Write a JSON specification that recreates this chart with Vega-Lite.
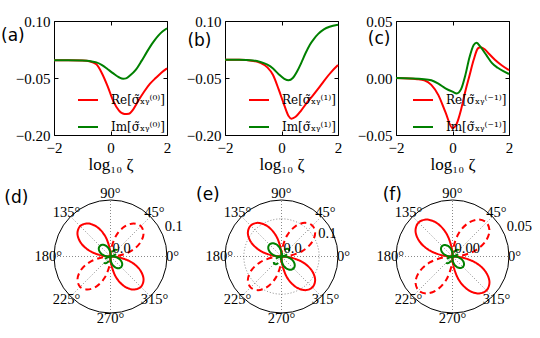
{
"$schema":"https://vega.github.io/schema/vega-lite/v6.json",
"padding":{"left":0,"top":13,"right":5,"bottom":5},
"datasets":{
"a":[
{"s":"Re","x":-2,"y":-0.003},{"s":"Re","x":-1.5,"y":-0.003},{"s":"Re","x":-1,"y":-0.004},{"s":"Re","x":-0.75,"y":-0.006},{"s":"Re","x":-0.5,"y":-0.014},{"s":"Re","x":-0.3,"y":-0.038},{"s":"Re","x":-0.1,"y":-0.072},{"s":"Re","x":0.1,"y":-0.111},{"s":"Re","x":0.3,"y":-0.136},{"s":"Re","x":0.5,"y":-0.145},{"s":"Re","x":0.65,"y":-0.144},{"s":"Re","x":0.8,"y":-0.133},{"s":"Re","x":1.0,"y":-0.108},{"s":"Re","x":1.2,"y":-0.085},{"s":"Re","x":1.4,"y":-0.065},{"s":"Re","x":1.6,"y":-0.05},{"s":"Re","x":1.8,"y":-0.036},{"s":"Re","x":2.0,"y":-0.0245},
{"s":"Im","x":-2,"y":-0.003},{"s":"Im","x":-1.5,"y":-0.003},{"s":"Im","x":-1,"y":-0.004},{"s":"Im","x":-0.7,"y":-0.006},{"s":"Im","x":-0.5,"y":-0.009},{"s":"Im","x":-0.3,"y":-0.016},{"s":"Im","x":-0.1,"y":-0.027},{"s":"Im","x":0.1,"y":-0.038},{"s":"Im","x":0.3,"y":-0.048},{"s":"Im","x":0.45,"y":-0.052},{"s":"Im","x":0.55,"y":-0.051},{"s":"Im","x":0.7,"y":-0.043},{"s":"Im","x":0.9,"y":-0.028},{"s":"Im","x":1.1,"y":-0.005},{"s":"Im","x":1.3,"y":0.02},{"s":"Im","x":1.5,"y":0.043},{"s":"Im","x":1.7,"y":0.062},{"s":"Im","x":1.85,"y":0.073},{"s":"Im","x":2.0,"y":0.081}
],
"b":[
{"s":"Re","x":-2,"y":-0.002},{"s":"Re","x":-1.5,"y":-0.002},{"s":"Re","x":-1,"y":-0.005},{"s":"Re","x":-0.75,"y":-0.01},{"s":"Re","x":-0.5,"y":-0.022},{"s":"Re","x":-0.3,"y":-0.042},{"s":"Re","x":-0.1,"y":-0.08},{"s":"Re","x":0.1,"y":-0.122},{"s":"Re","x":0.25,"y":-0.15},{"s":"Re","x":0.35,"y":-0.157},{"s":"Re","x":0.5,"y":-0.152},{"s":"Re","x":0.7,"y":-0.135},{"s":"Re","x":0.9,"y":-0.115},{"s":"Re","x":1.1,"y":-0.097},{"s":"Re","x":1.3,"y":-0.078},{"s":"Re","x":1.5,"y":-0.058},{"s":"Re","x":1.75,"y":-0.035},{"s":"Re","x":2.0,"y":-0.016},
{"s":"Im","x":-2,"y":-0.002},{"s":"Im","x":-1.5,"y":-0.002},{"s":"Im","x":-1,"y":-0.004},{"s":"Im","x":-0.75,"y":-0.008},{"s":"Im","x":-0.5,"y":-0.015},{"s":"Im","x":-0.3,"y":-0.025},{"s":"Im","x":-0.1,"y":-0.04},{"s":"Im","x":0.1,"y":-0.052},{"s":"Im","x":0.25,"y":-0.056},{"s":"Im","x":0.4,"y":-0.05},{"s":"Im","x":0.55,"y":-0.033},{"s":"Im","x":0.7,"y":-0.01},{"s":"Im","x":0.85,"y":0.015},{"s":"Im","x":1.0,"y":0.037},{"s":"Im","x":1.15,"y":0.053},{"s":"Im","x":1.3,"y":0.066},{"s":"Im","x":1.5,"y":0.078},{"s":"Im","x":1.7,"y":0.085},{"s":"Im","x":2.0,"y":0.09}
],
"c":[
{"s":"Re","x":-2,"y":0},{"s":"Re","x":-1.25,"y":-0.001},{"s":"Re","x":-1,"y":-0.002},{"s":"Re","x":-0.75,"y":-0.006},{"s":"Re","x":-0.5,"y":-0.015},{"s":"Re","x":-0.25,"y":-0.03},{"s":"Re","x":0,"y":-0.044},{"s":"Re","x":0.15,"y":-0.04},{"s":"Re","x":0.3,"y":-0.028},{"s":"Re","x":0.45,"y":-0.012},{"s":"Re","x":0.6,"y":0.002},{"s":"Re","x":0.75,"y":0.016},{"s":"Re","x":0.9,"y":0.026},{"s":"Re","x":1.0,"y":0.027},{"s":"Re","x":1.15,"y":0.025},{"s":"Re","x":1.3,"y":0.021},{"s":"Re","x":1.5,"y":0.016},{"s":"Re","x":1.75,"y":0.011},{"s":"Re","x":2.0,"y":0.007},
{"s":"Im","x":-2,"y":0},{"s":"Im","x":-1,"y":-0.001},{"s":"Im","x":-0.75,"y":-0.002},{"s":"Im","x":-0.5,"y":-0.005},{"s":"Im","x":-0.25,"y":-0.009},{"s":"Im","x":0,"y":-0.012},{"s":"Im","x":0.15,"y":-0.0135},{"s":"Im","x":0.3,"y":-0.01},{"s":"Im","x":0.45,"y":0.002},{"s":"Im","x":0.6,"y":0.018},{"s":"Im","x":0.75,"y":0.029},{"s":"Im","x":0.85,"y":0.031},{"s":"Im","x":1.0,"y":0.027},{"s":"Im","x":1.2,"y":0.02},{"s":"Im","x":1.4,"y":0.013},{"s":"Im","x":1.6,"y":0.009},{"s":"Im","x":1.8,"y":0.006},{"s":"Im","x":2.0,"y":0.0035}
],
"d":[
{"s":"Re","k":"p","l":1,"i":0,"x":0,"y":0},{"s":"Re","k":"p","l":1,"i":1,"x":-0.00115,"y":0.01315},{"s":"Re","k":"p","l":1,"i":2,"x":-0.00983,"y":0.03671},{"s":"Re","k":"p","l":1,"i":3,"x":-0.0246,"y":0.05276},{"s":"Re","k":"p","l":1,"i":4,"x":-0.04096,"y":0.0585},{"s":"Re","k":"p","l":1,"i":5,"x":-0.05374,"y":0.05374},{"s":"Re","k":"p","l":1,"i":6,"x":-0.0585,"y":0.04096},{"s":"Re","k":"p","l":1,"i":7,"x":-0.05276,"y":0.0246},{"s":"Re","k":"p","l":1,"i":8,"x":-0.03671,"y":0.00983},{"s":"Re","k":"p","l":1,"i":9,"x":-0.01315,"y":0.00115},{"s":"Re","k":"p","l":1,"i":10,"x":0,"y":0},
{"s":"Re","k":"p","l":2,"i":0,"x":0,"y":0},{"s":"Re","k":"p","l":2,"i":1,"x":0.00115,"y":-0.01315},{"s":"Re","k":"p","l":2,"i":2,"x":0.00983,"y":-0.03671},{"s":"Re","k":"p","l":2,"i":3,"x":0.0246,"y":-0.05276},{"s":"Re","k":"p","l":2,"i":4,"x":0.04096,"y":-0.0585},{"s":"Re","k":"p","l":2,"i":5,"x":0.05374,"y":-0.05374},{"s":"Re","k":"p","l":2,"i":6,"x":0.0585,"y":-0.04096},{"s":"Re","k":"p","l":2,"i":7,"x":0.05276,"y":-0.0246},{"s":"Re","k":"p","l":2,"i":8,"x":0.03671,"y":-0.00983},{"s":"Re","k":"p","l":2,"i":9,"x":0.01315,"y":-0.00115},{"s":"Re","k":"p","l":2,"i":10,"x":0,"y":0},
{"s":"Re","k":"n","l":3,"i":0,"x":0,"y":0},{"s":"Re","k":"n","l":3,"i":1,"x":0.00115,"y":0.01315},{"s":"Re","k":"n","l":3,"i":2,"x":0.00983,"y":0.03671},{"s":"Re","k":"n","l":3,"i":3,"x":0.0246,"y":0.05276},{"s":"Re","k":"n","l":3,"i":4,"x":0.04096,"y":0.0585},{"s":"Re","k":"n","l":3,"i":5,"x":0.05374,"y":0.05374},{"s":"Re","k":"n","l":3,"i":6,"x":0.0585,"y":0.04096},{"s":"Re","k":"n","l":3,"i":7,"x":0.05276,"y":0.0246},{"s":"Re","k":"n","l":3,"i":8,"x":0.03671,"y":0.00983},{"s":"Re","k":"n","l":3,"i":9,"x":0.01315,"y":0.00115},{"s":"Re","k":"n","l":3,"i":10,"x":0,"y":0},
{"s":"Re","k":"n","l":4,"i":0,"x":0,"y":0},{"s":"Re","k":"n","l":4,"i":1,"x":-0.00115,"y":-0.01315},{"s":"Re","k":"n","l":4,"i":2,"x":-0.00983,"y":-0.03671},{"s":"Re","k":"n","l":4,"i":3,"x":-0.0246,"y":-0.05276},{"s":"Re","k":"n","l":4,"i":4,"x":-0.04096,"y":-0.0585},{"s":"Re","k":"n","l":4,"i":5,"x":-0.05374,"y":-0.05374},{"s":"Re","k":"n","l":4,"i":6,"x":-0.0585,"y":-0.04096},{"s":"Re","k":"n","l":4,"i":7,"x":-0.05276,"y":-0.0246},{"s":"Re","k":"n","l":4,"i":8,"x":-0.03671,"y":-0.00983},{"s":"Re","k":"n","l":4,"i":9,"x":-0.01315,"y":-0.00115},{"s":"Re","k":"n","l":4,"i":10,"x":0,"y":0},
{"s":"Im","k":"p","l":5,"i":0,"x":0,"y":0},{"s":"Im","k":"p","l":5,"i":1,"x":0.00016,"y":0.0031},{"s":"Im","k":"p","l":5,"i":2,"x":-0.00078,"y":0.00896},{"s":"Im","k":"p","l":5,"i":3,"x":-0.00412,"y":0.01538},{"s":"Im","k":"p","l":5,"i":4,"x":-0.00912,"y":0.01956},{"s":"Im","k":"p","l":5,"i":5,"x":-0.0145,"y":0.02071},{"s":"Im","k":"p","l":5,"i":6,"x":-0.01878,"y":0.01878},{"s":"Im","k":"p","l":5,"i":7,"x":-0.02071,"y":0.0145},{"s":"Im","k":"p","l":5,"i":8,"x":-0.01956,"y":0.00912},{"s":"Im","k":"p","l":5,"i":9,"x":-0.01538,"y":0.00412},{"s":"Im","k":"p","l":5,"i":10,"x":-0.00896,"y":0.00078},{"s":"Im","k":"p","l":5,"i":11,"x":-0.0031,"y":-0.00016},{"s":"Im","k":"p","l":5,"i":12,"x":0,"y":0},
{"s":"Im","k":"p","l":6,"i":0,"x":0,"y":0},{"s":"Im","k":"p","l":6,"i":1,"x":-0.00016,"y":-0.0031},{"s":"Im","k":"p","l":6,"i":2,"x":0.00078,"y":-0.00896},{"s":"Im","k":"p","l":6,"i":3,"x":0.00412,"y":-0.01538},{"s":"Im","k":"p","l":6,"i":4,"x":0.00912,"y":-0.01956},{"s":"Im","k":"p","l":6,"i":5,"x":0.0145,"y":-0.02071},{"s":"Im","k":"p","l":6,"i":6,"x":0.01878,"y":-0.01878},{"s":"Im","k":"p","l":6,"i":7,"x":0.02071,"y":-0.0145},{"s":"Im","k":"p","l":6,"i":8,"x":0.01956,"y":-0.00912},{"s":"Im","k":"p","l":6,"i":9,"x":0.01538,"y":-0.00412},{"s":"Im","k":"p","l":6,"i":10,"x":0.00896,"y":-0.00078},{"s":"Im","k":"p","l":6,"i":11,"x":0.0031,"y":0.00016},{"s":"Im","k":"p","l":6,"i":12,"x":0,"y":0},
{"s":"Im","k":"n","l":7,"i":0,"x":0,"y":0},{"s":"Im","k":"n","l":7,"i":1,"x":0.00191,"y":0.00034},{"s":"Im","k":"n","l":7,"i":2,"x":0.00513,"y":0.00138},{"s":"Im","k":"n","l":7,"i":3,"x":0.00993,"y":0.00464},{"s":"Im","k":"n","l":7,"i":4,"x":0.012,"y":0.00841},{"s":"Im","k":"n","l":7,"i":5,"x":0.01126,"y":0.01126},{"s":"Im","k":"n","l":7,"i":6,"x":0.00841,"y":0.012},{"s":"Im","k":"n","l":7,"i":7,"x":0.00464,"y":0.00993},{"s":"Im","k":"n","l":7,"i":8,"x":0.00138,"y":0.00513},{"s":"Im","k":"n","l":7,"i":9,"x":0.00034,"y":0.00191},{"s":"Im","k":"n","l":7,"i":10,"x":0,"y":0},
{"s":"Im","k":"n","l":8,"i":0,"x":0,"y":0},{"s":"Im","k":"n","l":8,"i":1,"x":-0.00191,"y":-0.00034},{"s":"Im","k":"n","l":8,"i":2,"x":-0.00513,"y":-0.00138},{"s":"Im","k":"n","l":8,"i":3,"x":-0.00993,"y":-0.00464},{"s":"Im","k":"n","l":8,"i":4,"x":-0.012,"y":-0.00841},{"s":"Im","k":"n","l":8,"i":5,"x":-0.01126,"y":-0.01126},{"s":"Im","k":"n","l":8,"i":6,"x":-0.00841,"y":-0.012},{"s":"Im","k":"n","l":8,"i":7,"x":-0.00464,"y":-0.00993},{"s":"Im","k":"n","l":8,"i":8,"x":-0.00138,"y":-0.00513},{"s":"Im","k":"n","l":8,"i":9,"x":-0.00034,"y":-0.00191},{"s":"Im","k":"n","l":8,"i":10,"x":0,"y":0}
],
"e":[
{"s":"Re","k":"p","l":1,"i":0,"x":0,"y":0},{"s":"Re","k":"p","l":1,"i":1,"x":-0.00175,"y":0.02007},{"s":"Re","k":"p","l":1,"i":2,"x":-0.01501,"y":0.05603},{"s":"Re","k":"p","l":1,"i":3,"x":-0.03755,"y":0.08053},{"s":"Re","k":"p","l":1,"i":4,"x":-0.06252,"y":0.08929},{"s":"Re","k":"p","l":1,"i":5,"x":-0.08202,"y":0.08202},{"s":"Re","k":"p","l":1,"i":6,"x":-0.08929,"y":0.06252},{"s":"Re","k":"p","l":1,"i":7,"x":-0.08053,"y":0.03755},{"s":"Re","k":"p","l":1,"i":8,"x":-0.05603,"y":0.01501},{"s":"Re","k":"p","l":1,"i":9,"x":-0.02007,"y":0.00175},{"s":"Re","k":"p","l":1,"i":10,"x":0,"y":0},
{"s":"Re","k":"p","l":2,"i":0,"x":0,"y":0},{"s":"Re","k":"p","l":2,"i":1,"x":0.00175,"y":-0.02007},{"s":"Re","k":"p","l":2,"i":2,"x":0.01501,"y":-0.05603},{"s":"Re","k":"p","l":2,"i":3,"x":0.03755,"y":-0.08053},{"s":"Re","k":"p","l":2,"i":4,"x":0.06252,"y":-0.08929},{"s":"Re","k":"p","l":2,"i":5,"x":0.08202,"y":-0.08202},{"s":"Re","k":"p","l":2,"i":6,"x":0.08929,"y":-0.06252},{"s":"Re","k":"p","l":2,"i":7,"x":0.08053,"y":-0.03755},{"s":"Re","k":"p","l":2,"i":8,"x":0.05603,"y":-0.01501},{"s":"Re","k":"p","l":2,"i":9,"x":0.02007,"y":-0.00175},{"s":"Re","k":"p","l":2,"i":10,"x":0,"y":0},
{"s":"Re","k":"n","l":3,"i":0,"x":0,"y":0},{"s":"Re","k":"n","l":3,"i":1,"x":0.00175,"y":0.02007},{"s":"Re","k":"n","l":3,"i":2,"x":0.01501,"y":0.05603},{"s":"Re","k":"n","l":3,"i":3,"x":0.03755,"y":0.08053},{"s":"Re","k":"n","l":3,"i":4,"x":0.06252,"y":0.08929},{"s":"Re","k":"n","l":3,"i":5,"x":0.08202,"y":0.08202},{"s":"Re","k":"n","l":3,"i":6,"x":0.08929,"y":0.06252},{"s":"Re","k":"n","l":3,"i":7,"x":0.08053,"y":0.03755},{"s":"Re","k":"n","l":3,"i":8,"x":0.05603,"y":0.01501},{"s":"Re","k":"n","l":3,"i":9,"x":0.02007,"y":0.00175},{"s":"Re","k":"n","l":3,"i":10,"x":0,"y":0},
{"s":"Re","k":"n","l":4,"i":0,"x":0,"y":0},{"s":"Re","k":"n","l":4,"i":1,"x":-0.00175,"y":-0.02007},{"s":"Re","k":"n","l":4,"i":2,"x":-0.01501,"y":-0.05603},{"s":"Re","k":"n","l":4,"i":3,"x":-0.03755,"y":-0.08053},{"s":"Re","k":"n","l":4,"i":4,"x":-0.06252,"y":-0.08929},{"s":"Re","k":"n","l":4,"i":5,"x":-0.08202,"y":-0.08202},{"s":"Re","k":"n","l":4,"i":6,"x":-0.08929,"y":-0.06252},{"s":"Re","k":"n","l":4,"i":7,"x":-0.08053,"y":-0.03755},{"s":"Re","k":"n","l":4,"i":8,"x":-0.05603,"y":-0.01501},{"s":"Re","k":"n","l":4,"i":9,"x":-0.02007,"y":-0.00175},{"s":"Re","k":"n","l":4,"i":10,"x":0,"y":0},
{"s":"Im","k":"p","l":5,"i":0,"x":0,"y":0},{"s":"Im","k":"p","l":5,"i":1,"x":0.00027,"y":0.00525},{"s":"Im","k":"p","l":5,"i":2,"x":-0.00132,"y":0.01518},{"s":"Im","k":"p","l":5,"i":3,"x":-0.00699,"y":0.02607},{"s":"Im","k":"p","l":5,"i":4,"x":-0.01545,"y":0.03315},{"s":"Im","k":"p","l":5,"i":5,"x":-0.02457,"y":0.0351},{"s":"Im","k":"p","l":5,"i":6,"x":-0.03183,"y":0.03183},{"s":"Im","k":"p","l":5,"i":7,"x":-0.0351,"y":0.02457},{"s":"Im","k":"p","l":5,"i":8,"x":-0.03315,"y":0.01545},{"s":"Im","k":"p","l":5,"i":9,"x":-0.02607,"y":0.00699},{"s":"Im","k":"p","l":5,"i":10,"x":-0.01518,"y":0.00132},{"s":"Im","k":"p","l":5,"i":11,"x":-0.00525,"y":-0.00027},{"s":"Im","k":"p","l":5,"i":12,"x":0,"y":0},
{"s":"Im","k":"p","l":6,"i":0,"x":0,"y":0},{"s":"Im","k":"p","l":6,"i":1,"x":-0.00027,"y":-0.00525},{"s":"Im","k":"p","l":6,"i":2,"x":0.00132,"y":-0.01518},{"s":"Im","k":"p","l":6,"i":3,"x":0.00699,"y":-0.02607},{"s":"Im","k":"p","l":6,"i":4,"x":0.01545,"y":-0.03315},{"s":"Im","k":"p","l":6,"i":5,"x":0.02457,"y":-0.0351},{"s":"Im","k":"p","l":6,"i":6,"x":0.03183,"y":-0.03183},{"s":"Im","k":"p","l":6,"i":7,"x":0.0351,"y":-0.02457},{"s":"Im","k":"p","l":6,"i":8,"x":0.03315,"y":-0.01545},{"s":"Im","k":"p","l":6,"i":9,"x":0.02607,"y":-0.00699},{"s":"Im","k":"p","l":6,"i":10,"x":0.01518,"y":-0.00132},{"s":"Im","k":"p","l":6,"i":11,"x":0.00525,"y":0.00027},{"s":"Im","k":"p","l":6,"i":12,"x":0,"y":0},
{"s":"Im","k":"n","l":7,"i":0,"x":0,"y":0},{"s":"Im","k":"n","l":7,"i":1,"x":0.00324,"y":0.00057},{"s":"Im","k":"n","l":7,"i":2,"x":0.0087,"y":0.00234},{"s":"Im","k":"n","l":7,"i":3,"x":0.01683,"y":0.00786},{"s":"Im","k":"n","l":7,"i":4,"x":0.02034,"y":0.01425},{"s":"Im","k":"n","l":7,"i":5,"x":0.01908,"y":0.01908},{"s":"Im","k":"n","l":7,"i":6,"x":0.01425,"y":0.02034},{"s":"Im","k":"n","l":7,"i":7,"x":0.00786,"y":0.01683},{"s":"Im","k":"n","l":7,"i":8,"x":0.00234,"y":0.0087},{"s":"Im","k":"n","l":7,"i":9,"x":0.00057,"y":0.00324},{"s":"Im","k":"n","l":7,"i":10,"x":0,"y":0},
{"s":"Im","k":"n","l":8,"i":0,"x":0,"y":0},{"s":"Im","k":"n","l":8,"i":1,"x":-0.00324,"y":-0.00057},{"s":"Im","k":"n","l":8,"i":2,"x":-0.0087,"y":-0.00234},{"s":"Im","k":"n","l":8,"i":3,"x":-0.01683,"y":-0.00786},{"s":"Im","k":"n","l":8,"i":4,"x":-0.02034,"y":-0.01425},{"s":"Im","k":"n","l":8,"i":5,"x":-0.01908,"y":-0.01908},{"s":"Im","k":"n","l":8,"i":6,"x":-0.01425,"y":-0.02034},{"s":"Im","k":"n","l":8,"i":7,"x":-0.00786,"y":-0.01683},{"s":"Im","k":"n","l":8,"i":8,"x":-0.00234,"y":-0.0087},{"s":"Im","k":"n","l":8,"i":9,"x":-0.00057,"y":-0.00324},{"s":"Im","k":"n","l":8,"i":10,"x":0,"y":0}
],
"f":[
{"s":"Re","k":"p","l":1,"i":0,"x":0,"y":0},{"s":"Re","k":"p","l":1,"i":1,"x":-0.00064,"y":0.00735},{"s":"Re","k":"p","l":1,"i":2,"x":-0.0055,"y":0.02053},{"s":"Re","k":"p","l":1,"i":3,"x":-0.01376,"y":0.0295},{"s":"Re","k":"p","l":1,"i":4,"x":-0.02291,"y":0.03271},{"s":"Re","k":"p","l":1,"i":5,"x":-0.03005,"y":0.03005},{"s":"Re","k":"p","l":1,"i":6,"x":-0.03271,"y":0.02291},{"s":"Re","k":"p","l":1,"i":7,"x":-0.0295,"y":0.01376},{"s":"Re","k":"p","l":1,"i":8,"x":-0.02053,"y":0.0055},{"s":"Re","k":"p","l":1,"i":9,"x":-0.00735,"y":0.00064},{"s":"Re","k":"p","l":1,"i":10,"x":0,"y":0},
{"s":"Re","k":"p","l":2,"i":0,"x":0,"y":0},{"s":"Re","k":"p","l":2,"i":1,"x":0.00064,"y":-0.00735},{"s":"Re","k":"p","l":2,"i":2,"x":0.0055,"y":-0.02053},{"s":"Re","k":"p","l":2,"i":3,"x":0.01376,"y":-0.0295},{"s":"Re","k":"p","l":2,"i":4,"x":0.02291,"y":-0.03271},{"s":"Re","k":"p","l":2,"i":5,"x":0.03005,"y":-0.03005},{"s":"Re","k":"p","l":2,"i":6,"x":0.03271,"y":-0.02291},{"s":"Re","k":"p","l":2,"i":7,"x":0.0295,"y":-0.01376},{"s":"Re","k":"p","l":2,"i":8,"x":0.02053,"y":-0.0055},{"s":"Re","k":"p","l":2,"i":9,"x":0.00735,"y":-0.00064},{"s":"Re","k":"p","l":2,"i":10,"x":0,"y":0},
{"s":"Re","k":"n","l":3,"i":0,"x":0,"y":0},{"s":"Re","k":"n","l":3,"i":1,"x":0.00064,"y":0.00735},{"s":"Re","k":"n","l":3,"i":2,"x":0.0055,"y":0.02053},{"s":"Re","k":"n","l":3,"i":3,"x":0.01376,"y":0.0295},{"s":"Re","k":"n","l":3,"i":4,"x":0.02291,"y":0.03271},{"s":"Re","k":"n","l":3,"i":5,"x":0.03005,"y":0.03005},{"s":"Re","k":"n","l":3,"i":6,"x":0.03271,"y":0.02291},{"s":"Re","k":"n","l":3,"i":7,"x":0.0295,"y":0.01376},{"s":"Re","k":"n","l":3,"i":8,"x":0.02053,"y":0.0055},{"s":"Re","k":"n","l":3,"i":9,"x":0.00735,"y":0.00064},{"s":"Re","k":"n","l":3,"i":10,"x":0,"y":0},
{"s":"Re","k":"n","l":4,"i":0,"x":0,"y":0},{"s":"Re","k":"n","l":4,"i":1,"x":-0.00064,"y":-0.00735},{"s":"Re","k":"n","l":4,"i":2,"x":-0.0055,"y":-0.02053},{"s":"Re","k":"n","l":4,"i":3,"x":-0.01376,"y":-0.0295},{"s":"Re","k":"n","l":4,"i":4,"x":-0.02291,"y":-0.03271},{"s":"Re","k":"n","l":4,"i":5,"x":-0.03005,"y":-0.03005},{"s":"Re","k":"n","l":4,"i":6,"x":-0.03271,"y":-0.02291},{"s":"Re","k":"n","l":4,"i":7,"x":-0.0295,"y":-0.01376},{"s":"Re","k":"n","l":4,"i":8,"x":-0.02053,"y":-0.0055},{"s":"Re","k":"n","l":4,"i":9,"x":-0.00735,"y":-0.00064},{"s":"Re","k":"n","l":4,"i":10,"x":0,"y":0},
{"s":"Im","k":"p","l":5,"i":0,"x":0,"y":0},{"s":"Im","k":"p","l":5,"i":1,"x":0.00008,"y":0.00152},{"s":"Im","k":"p","l":5,"i":2,"x":-0.00038,"y":0.0044},{"s":"Im","k":"p","l":5,"i":3,"x":-0.00203,"y":0.00756},{"s":"Im","k":"p","l":5,"i":4,"x":-0.00448,"y":0.00961},{"s":"Im","k":"p","l":5,"i":5,"x":-0.00713,"y":0.01018},{"s":"Im","k":"p","l":5,"i":6,"x":-0.00923,"y":0.00923},{"s":"Im","k":"p","l":5,"i":7,"x":-0.01018,"y":0.00713},{"s":"Im","k":"p","l":5,"i":8,"x":-0.00961,"y":0.00448},{"s":"Im","k":"p","l":5,"i":9,"x":-0.00756,"y":0.00203},{"s":"Im","k":"p","l":5,"i":10,"x":-0.0044,"y":0.00038},{"s":"Im","k":"p","l":5,"i":11,"x":-0.00152,"y":-0.00008},{"s":"Im","k":"p","l":5,"i":12,"x":0,"y":0},
{"s":"Im","k":"p","l":6,"i":0,"x":0,"y":0},{"s":"Im","k":"p","l":6,"i":1,"x":-0.00008,"y":-0.00152},{"s":"Im","k":"p","l":6,"i":2,"x":0.00038,"y":-0.0044},{"s":"Im","k":"p","l":6,"i":3,"x":0.00203,"y":-0.00756},{"s":"Im","k":"p","l":6,"i":4,"x":0.00448,"y":-0.00961},{"s":"Im","k":"p","l":6,"i":5,"x":0.00713,"y":-0.01018},{"s":"Im","k":"p","l":6,"i":6,"x":0.00923,"y":-0.00923},{"s":"Im","k":"p","l":6,"i":7,"x":0.01018,"y":-0.00713},{"s":"Im","k":"p","l":6,"i":8,"x":0.00961,"y":-0.00448},{"s":"Im","k":"p","l":6,"i":9,"x":0.00756,"y":-0.00203},{"s":"Im","k":"p","l":6,"i":10,"x":0.0044,"y":-0.00038},{"s":"Im","k":"p","l":6,"i":11,"x":0.00152,"y":0.00008},{"s":"Im","k":"p","l":6,"i":12,"x":0,"y":0},
{"s":"Im","k":"n","l":7,"i":0,"x":0,"y":0},{"s":"Im","k":"n","l":7,"i":1,"x":0.00094,"y":0.00017},{"s":"Im","k":"n","l":7,"i":2,"x":0.00252,"y":0.00068},{"s":"Im","k":"n","l":7,"i":3,"x":0.00488,"y":0.00228},{"s":"Im","k":"n","l":7,"i":4,"x":0.0059,"y":0.00413},{"s":"Im","k":"n","l":7,"i":5,"x":0.00553,"y":0.00553},{"s":"Im","k":"n","l":7,"i":6,"x":0.00413,"y":0.0059},{"s":"Im","k":"n","l":7,"i":7,"x":0.00228,"y":0.00488},{"s":"Im","k":"n","l":7,"i":8,"x":0.00068,"y":0.00252},{"s":"Im","k":"n","l":7,"i":9,"x":0.00017,"y":0.00094},{"s":"Im","k":"n","l":7,"i":10,"x":0,"y":0},
{"s":"Im","k":"n","l":8,"i":0,"x":0,"y":0},{"s":"Im","k":"n","l":8,"i":1,"x":-0.00094,"y":-0.00017},{"s":"Im","k":"n","l":8,"i":2,"x":-0.00252,"y":-0.00068},{"s":"Im","k":"n","l":8,"i":3,"x":-0.00488,"y":-0.00228},{"s":"Im","k":"n","l":8,"i":4,"x":-0.0059,"y":-0.00413},{"s":"Im","k":"n","l":8,"i":5,"x":-0.00553,"y":-0.00553},{"s":"Im","k":"n","l":8,"i":6,"x":-0.00413,"y":-0.0059},{"s":"Im","k":"n","l":8,"i":7,"x":-0.00228,"y":-0.00488},{"s":"Im","k":"n","l":8,"i":8,"x":-0.00068,"y":-0.00252},{"s":"Im","k":"n","l":8,"i":9,"x":-0.00017,"y":-0.00094},{"s":"Im","k":"n","l":8,"i":10,"x":0,"y":0}
]
},
"columns":3,
"spacing":{"row":65,"column":58},
"bounds":"flush",
"concat":[
{"width":113,"height":114,
 "layer":[
  {"data":{"name":"a"},"mark":{"type":"line","strokeWidth":2,"interpolate":"monotone"},
   "encoding":{
    "x":{"field":"x","type":"quantitative","scale":{"domain":[-2,2],"nice":false},"axis":{"values":[-2,0,2],"format":"d","labelPadding":9,"title":"log₁₀ ζ","titlePadding":1}},
    "y":{"field":"y","type":"quantitative","scale":{"domain":[-0.2,0.1],"nice":false},"axis":{"values":[-0.2,-0.05,0.1],"format":".2f","labelPadding":8,"title":null}},
    "color":{"field":"s","type":"nominal","scale":{"domain":["Re","Im"],"range":["#ff0000","#008000"]},"legend":{"title":null,"labelExpr":"datum.label == 'Re' ? 'Re[σ̃ₓᵧ⁽⁰⁾]' : 'Im[σ̃ₓᵧ⁽⁰⁾]'"}}}},
  {"data":{"name":"a"},"mark":{"type":"point","opacity":0},
   "encoding":{
    "x":{"field":"x","type":"quantitative","scale":{"domain":[-2,2],"nice":false},"axis":{"orient":"top","values":[-2,0,2],"labels":false,"title":null}},
    "y":{"field":"y","type":"quantitative","scale":{"domain":[-0.2,0.1],"nice":false},"axis":{"orient":"right","values":[-0.2,-0.05,0.1],"labels":false,"title":null}}}},
  {"data":{"values":[{"t":"(a)"}]},"mark":{"type":"text","font":"DejaVu Sans","fontSize":17,"align":"left","baseline":"middle"},
   "encoding":{"x":{"datum":-3.876,"type":"quantitative","axis":null},"y":{"datum":0.0605,"type":"quantitative","axis":null},"text":{"field":"t"}}}
 ],
 "resolve":{"axis":{"x":"independent","y":"independent"}}
},
{"width":113,"height":114,
 "layer":[
  {"data":{"name":"b"},"mark":{"type":"line","strokeWidth":2,"interpolate":"monotone"},
   "encoding":{
    "x":{"field":"x","type":"quantitative","scale":{"domain":[-2,2],"nice":false},"axis":{"values":[-2,0,2],"format":"d","labelPadding":9,"title":"log₁₀ ζ","titlePadding":1}},
    "y":{"field":"y","type":"quantitative","scale":{"domain":[-0.2,0.1],"nice":false},"axis":{"values":[-0.2,-0.05,0.1],"format":".2f","labelPadding":8,"title":null}},
    "color":{"field":"s","type":"nominal","scale":{"domain":["Re","Im"],"range":["#ff0000","#008000"]},"legend":{"title":null,"labelExpr":"datum.label == 'Re' ? 'Re[σ̃ₓᵧ⁽¹⁾]' : 'Im[σ̃ₓᵧ⁽¹⁾]'"}}}},
  {"data":{"name":"b"},"mark":{"type":"point","opacity":0},
   "encoding":{
    "x":{"field":"x","type":"quantitative","scale":{"domain":[-2,2],"nice":false},"axis":{"orient":"top","values":[-2,0,2],"labels":false,"title":null}},
    "y":{"field":"y","type":"quantitative","scale":{"domain":[-0.2,0.1],"nice":false},"axis":{"orient":"right","values":[-0.2,-0.05,0.1],"labels":false,"title":null}}}},
  {"data":{"values":[{"t":"(b)"}]},"mark":{"type":"text","font":"DejaVu Sans","fontSize":17,"align":"left","baseline":"middle"},
   "encoding":{"x":{"datum":-3.33,"type":"quantitative","axis":null},"y":{"datum":0.0482,"type":"quantitative","axis":null},"text":{"field":"t"}}}
 ],
 "resolve":{"axis":{"x":"independent","y":"independent"}}
},
{"width":113,"height":114,
 "layer":[
  {"data":{"name":"c"},"mark":{"type":"line","strokeWidth":2,"interpolate":"monotone"},
   "encoding":{
    "x":{"field":"x","type":"quantitative","scale":{"domain":[-2,2],"nice":false},"axis":{"values":[-2,0,2],"format":"d","labelPadding":9,"title":"log₁₀ ζ","titlePadding":1}},
    "y":{"field":"y","type":"quantitative","scale":{"domain":[-0.05,0.05],"nice":false},"axis":{"values":[-0.05,0,0.05],"format":".2f","labelPadding":8,"title":null}},
    "color":{"field":"s","type":"nominal","scale":{"domain":["Re","Im"],"range":["#ff0000","#008000"]},"legend":{"title":null,"labelExpr":"datum.label == 'Re' ? 'Re[σ̃ₓᵧ⁽⁻¹⁾]' : 'Im[σ̃ₓᵧ⁽⁻¹⁾]'"}}}},
  {"data":{"name":"c"},"mark":{"type":"point","opacity":0},
   "encoding":{
    "x":{"field":"x","type":"quantitative","scale":{"domain":[-2,2],"nice":false},"axis":{"orient":"top","values":[-2,0,2],"labels":false,"title":null}},
    "y":{"field":"y","type":"quantitative","scale":{"domain":[-0.05,0.05],"nice":false},"axis":{"orient":"right","values":[-0.05,0,0.05],"labels":false,"title":null}}}},
  {"data":{"values":[{"t":"(c)"}]},"mark":{"type":"text","font":"DejaVu Sans","fontSize":17,"align":"left","baseline":"middle"},
   "encoding":{"x":{"datum":-3.0,"type":"quantitative","axis":null},"y":{"datum":0.0342,"type":"quantitative","axis":null},"text":{"field":"t"}}}
 ],
 "resolve":{"axis":{"x":"independent","y":"independent"}}
},
{"width":113,"height":113,"view":{"stroke":null},
 "layer":[
  {"data":{"values":[{"x1":-0.1,"y1":0,"x2":0.1,"y2":0},{"x1":0,"y1":-0.1,"x2":0,"y2":0.1},{"x1":-0.0707,"y1":-0.0707,"x2":0.0707,"y2":0.0707},{"x1":-0.0707,"y1":0.0707,"x2":0.0707,"y2":-0.0707}]},
   "mark":{"type":"rule","color":"#555555","strokeWidth":0.7,"strokeDash":[1,2]},
   "encoding":{"x":{"field":"x1","type":"quantitative","scale":{"domain":[-0.1,0.1],"nice":false},"axis":null},"y":{"field":"y1","type":"quantitative","scale":{"domain":[-0.1,0.1],"nice":false},"axis":null},"x2":{"field":"x2"},"y2":{"field":"y2"}}},
  {"data":{"values":[{"r":0.1}]},"mark":{"type":"arc","filled":false,"stroke":"black","strokeWidth":1,"theta":0,"theta2":6.2832},
   "encoding":{"radius":{"field":"r","type":"quantitative","scale":{"type":"linear","domain":[0,0.1],"range":[0,56.5]}}}},
  {"data":{"name":"d"},"mark":{"type":"line","strokeWidth":2,"interpolate":"catmull-rom"},
   "encoding":{"x":{"field":"x","type":"quantitative","scale":{"domain":[-0.1,0.1],"nice":false},"axis":null},"y":{"field":"y","type":"quantitative","scale":{"domain":[-0.1,0.1],"nice":false},"axis":null},
    "color":{"field":"s","type":"nominal","scale":{"domain":["Re","Im"],"range":["#ff0000","#008000"]},"legend":null},
    "strokeDash":{"field":"k","type":"nominal","scale":{"domain":["p","n"],"range":[[1,0],[6,4]]},"legend":null},
    "detail":{"field":"l","type":"nominal"},"order":{"field":"i","type":"quantitative"}}},
  {"data":{"values":[{"t":"0°","x":0.11,"y":0},{"t":"45°","x":0.0778,"y":0.0778},{"t":"90°","x":0,"y":0.11},{"t":"135°","x":-0.0778,"y":0.0778},{"t":"180°","x":-0.11,"y":0},{"t":"225°","x":-0.0778,"y":-0.0778},{"t":"270°","x":0,"y":-0.11},{"t":"315°","x":0.0778,"y":-0.0778}]},
   "mark":{"type":"text","fontSize":14.5,"align":"center","baseline":"middle"},
   "encoding":{"x":{"field":"x","type":"quantitative","scale":{"domain":[-0.1,0.1],"nice":false},"axis":null},"y":{"field":"y","type":"quantitative","scale":{"domain":[-0.1,0.1],"nice":false},"axis":null},"text":{"field":"t"}}},
  {"data":{"values":[{"t":"0.0","x":0,"y":0},{"t":"0.1","x":0.0924,"y":0.0383}]},
   "mark":{"type":"text","fontSize":14.5,"align":"left","baseline":"bottom","dx":2,"dy":-1},
   "encoding":{"x":{"field":"x","type":"quantitative","scale":{"domain":[-0.1,0.1],"nice":false},"axis":null},"y":{"field":"y","type":"quantitative","scale":{"domain":[-0.1,0.1],"nice":false},"axis":null},"text":{"field":"t"}}},
  {"data":{"values":[{"t":"(d)","x":-0.188,"y":0.1044}]},
   "mark":{"type":"text","font":"DejaVu Sans","fontSize":17,"align":"left","baseline":"middle"},
   "encoding":{"x":{"field":"x","type":"quantitative","scale":{"domain":[-0.1,0.1],"nice":false},"axis":null},"y":{"field":"y","type":"quantitative","scale":{"domain":[-0.1,0.1],"nice":false},"axis":null},"text":{"field":"t"}}}
 ]
},
{"width":113,"height":113,"view":{"stroke":null},
 "layer":[
  {"data":{"values":[{"x1":-0.15,"y1":0,"x2":0.15,"y2":0},{"x1":0,"y1":-0.15,"x2":0,"y2":0.15},{"x1":-0.1061,"y1":-0.1061,"x2":0.1061,"y2":0.1061},{"x1":-0.1061,"y1":0.1061,"x2":0.1061,"y2":-0.1061}]},
   "mark":{"type":"rule","color":"#555555","strokeWidth":0.7,"strokeDash":[1,2]},
   "encoding":{"x":{"field":"x1","type":"quantitative","scale":{"domain":[-0.15,0.15],"nice":false},"axis":null},"y":{"field":"y1","type":"quantitative","scale":{"domain":[-0.15,0.15],"nice":false},"axis":null},"x2":{"field":"x2"},"y2":{"field":"y2"}}},
  {"data":{"values":[{"r":0.1}]},"mark":{"type":"arc","filled":false,"stroke":"#555555","strokeWidth":0.7,"strokeDash":[1,2],"theta":0,"theta2":6.2832},
   "encoding":{"radius":{"field":"r","type":"quantitative","scale":{"type":"linear","domain":[0,0.15],"range":[0,56.5]}}}},
  {"data":{"values":[{"r":0.15}]},"mark":{"type":"arc","filled":false,"stroke":"black","strokeWidth":1,"theta":0,"theta2":6.2832},
   "encoding":{"radius":{"field":"r","type":"quantitative","scale":{"type":"linear","domain":[0,0.15],"range":[0,56.5]}}}},
  {"data":{"name":"e"},"mark":{"type":"line","strokeWidth":2,"interpolate":"catmull-rom"},
   "encoding":{"x":{"field":"x","type":"quantitative","scale":{"domain":[-0.15,0.15],"nice":false},"axis":null},"y":{"field":"y","type":"quantitative","scale":{"domain":[-0.15,0.15],"nice":false},"axis":null},
    "color":{"field":"s","type":"nominal","scale":{"domain":["Re","Im"],"range":["#ff0000","#008000"]},"legend":null},
    "strokeDash":{"field":"k","type":"nominal","scale":{"domain":["p","n"],"range":[[1,0],[6,4]]},"legend":null},
    "detail":{"field":"l","type":"nominal"},"order":{"field":"i","type":"quantitative"}}},
  {"data":{"values":[{"t":"0°","x":0.165,"y":0},{"t":"45°","x":0.1167,"y":0.1167},{"t":"90°","x":0,"y":0.165},{"t":"135°","x":-0.1167,"y":0.1167},{"t":"180°","x":-0.165,"y":0},{"t":"225°","x":-0.1167,"y":-0.1167},{"t":"270°","x":0,"y":-0.165},{"t":"315°","x":0.1167,"y":-0.1167}]},
   "mark":{"type":"text","fontSize":14.5,"align":"center","baseline":"middle"},
   "encoding":{"x":{"field":"x","type":"quantitative","scale":{"domain":[-0.15,0.15],"nice":false},"axis":null},"y":{"field":"y","type":"quantitative","scale":{"domain":[-0.15,0.15],"nice":false},"axis":null},"text":{"field":"t"}}},
  {"data":{"values":[{"t":"0.0","x":0,"y":0},{"t":"0.1","x":0.0924,"y":0.0383}]},
   "mark":{"type":"text","fontSize":14.5,"align":"left","baseline":"bottom","dx":2,"dy":-1},
   "encoding":{"x":{"field":"x","type":"quantitative","scale":{"domain":[-0.15,0.15],"nice":false},"axis":null},"y":{"field":"y","type":"quantitative","scale":{"domain":[-0.15,0.15],"nice":false},"axis":null},"text":{"field":"t"}}},
  {"data":{"values":[{"t":"(e)","x":-0.227,"y":0.162}]},
   "mark":{"type":"text","font":"DejaVu Sans","fontSize":17,"align":"left","baseline":"middle"},
   "encoding":{"x":{"field":"x","type":"quantitative","scale":{"domain":[-0.15,0.15],"nice":false},"axis":null},"y":{"field":"y","type":"quantitative","scale":{"domain":[-0.15,0.15],"nice":false},"axis":null},"text":{"field":"t"}}}
 ]
},
{"width":113,"height":113,"view":{"stroke":null},
 "layer":[
  {"data":{"values":[{"x1":-0.05,"y1":0,"x2":0.05,"y2":0},{"x1":0,"y1":-0.05,"x2":0,"y2":0.05},{"x1":-0.03536,"y1":-0.03536,"x2":0.03536,"y2":0.03536},{"x1":-0.03536,"y1":0.03536,"x2":0.03536,"y2":-0.03536}]},
   "mark":{"type":"rule","color":"#555555","strokeWidth":0.7,"strokeDash":[1,2]},
   "encoding":{"x":{"field":"x1","type":"quantitative","scale":{"domain":[-0.05,0.05],"nice":false},"axis":null},"y":{"field":"y1","type":"quantitative","scale":{"domain":[-0.05,0.05],"nice":false},"axis":null},"x2":{"field":"x2"},"y2":{"field":"y2"}}},
  {"data":{"values":[{"r":0.05}]},"mark":{"type":"arc","filled":false,"stroke":"black","strokeWidth":1,"theta":0,"theta2":6.2832},
   "encoding":{"radius":{"field":"r","type":"quantitative","scale":{"type":"linear","domain":[0,0.05],"range":[0,56.5]}}}},
  {"data":{"name":"f"},"mark":{"type":"line","strokeWidth":2,"interpolate":"catmull-rom"},
   "encoding":{"x":{"field":"x","type":"quantitative","scale":{"domain":[-0.05,0.05],"nice":false},"axis":null},"y":{"field":"y","type":"quantitative","scale":{"domain":[-0.05,0.05],"nice":false},"axis":null},
    "color":{"field":"s","type":"nominal","scale":{"domain":["Re","Im"],"range":["#ff0000","#008000"]},"legend":null},
    "strokeDash":{"field":"k","type":"nominal","scale":{"domain":["p","n"],"range":[[1,0],[6,4]]},"legend":null},
    "detail":{"field":"l","type":"nominal"},"order":{"field":"i","type":"quantitative"}}},
  {"data":{"values":[{"t":"0°","x":0.055,"y":0},{"t":"45°","x":0.0389,"y":0.0389},{"t":"90°","x":0,"y":0.055},{"t":"135°","x":-0.0389,"y":0.0389},{"t":"180°","x":-0.055,"y":0},{"t":"225°","x":-0.0389,"y":-0.0389},{"t":"270°","x":0,"y":-0.055},{"t":"315°","x":0.0389,"y":-0.0389}]},
   "mark":{"type":"text","fontSize":14.5,"align":"center","baseline":"middle"},
   "encoding":{"x":{"field":"x","type":"quantitative","scale":{"domain":[-0.05,0.05],"nice":false},"axis":null},"y":{"field":"y","type":"quantitative","scale":{"domain":[-0.05,0.05],"nice":false},"axis":null},"text":{"field":"t"}}},
  {"data":{"values":[{"t":"0.00","x":0,"y":0},{"t":"0.05","x":0.0462,"y":0.0191}]},
   "mark":{"type":"text","fontSize":14.5,"align":"left","baseline":"bottom","dx":2,"dy":-1},
   "encoding":{"x":{"field":"x","type":"quantitative","scale":{"domain":[-0.05,0.05],"nice":false},"axis":null},"y":{"field":"y","type":"quantitative","scale":{"domain":[-0.05,0.05],"nice":false},"axis":null},"text":{"field":"t"}}},
  {"data":{"values":[{"t":"(f)","x":-0.0618,"y":0.054}]},
   "mark":{"type":"text","font":"DejaVu Sans","fontSize":17,"align":"left","baseline":"middle"},
   "encoding":{"x":{"field":"x","type":"quantitative","scale":{"domain":[-0.05,0.05],"nice":false},"axis":null},"y":{"field":"y","type":"quantitative","scale":{"domain":[-0.05,0.05],"nice":false},"axis":null},"text":{"field":"t"}}}
 ]
}
],
"resolve":{"scale":{"color":"independent","strokeDash":"independent","radius":"independent"},"legend":{"color":"independent","strokeDash":"independent"}},
"config":{
 "view":{"stroke":"black","strokeWidth":1},
 "font":"Liberation Serif",
 "axis":{"labelFont":"Liberation Serif","labelFontSize":15,"labelColor":"black","tickColor":"black","tickSize":-4,"tickWidth":1,"domain":false,"grid":false,"labelFlush":false,"labelOverlap":false,"titleFont":"Liberation Serif","titleFontSize":17,"titleFontWeight":"normal","titleColor":"black"},
 "legend":{"orient":"bottom-right","offset":2,"padding":0,"symbolType":"stroke","symbolSize":400,"symbolStrokeWidth":2,"labelFont":"DejaVu Serif","labelFontSize":12,"labelColor":"black","labelOffset":12,"rowPadding":10},
 "text":{"color":"black","font":"Liberation Serif"}
}
}
